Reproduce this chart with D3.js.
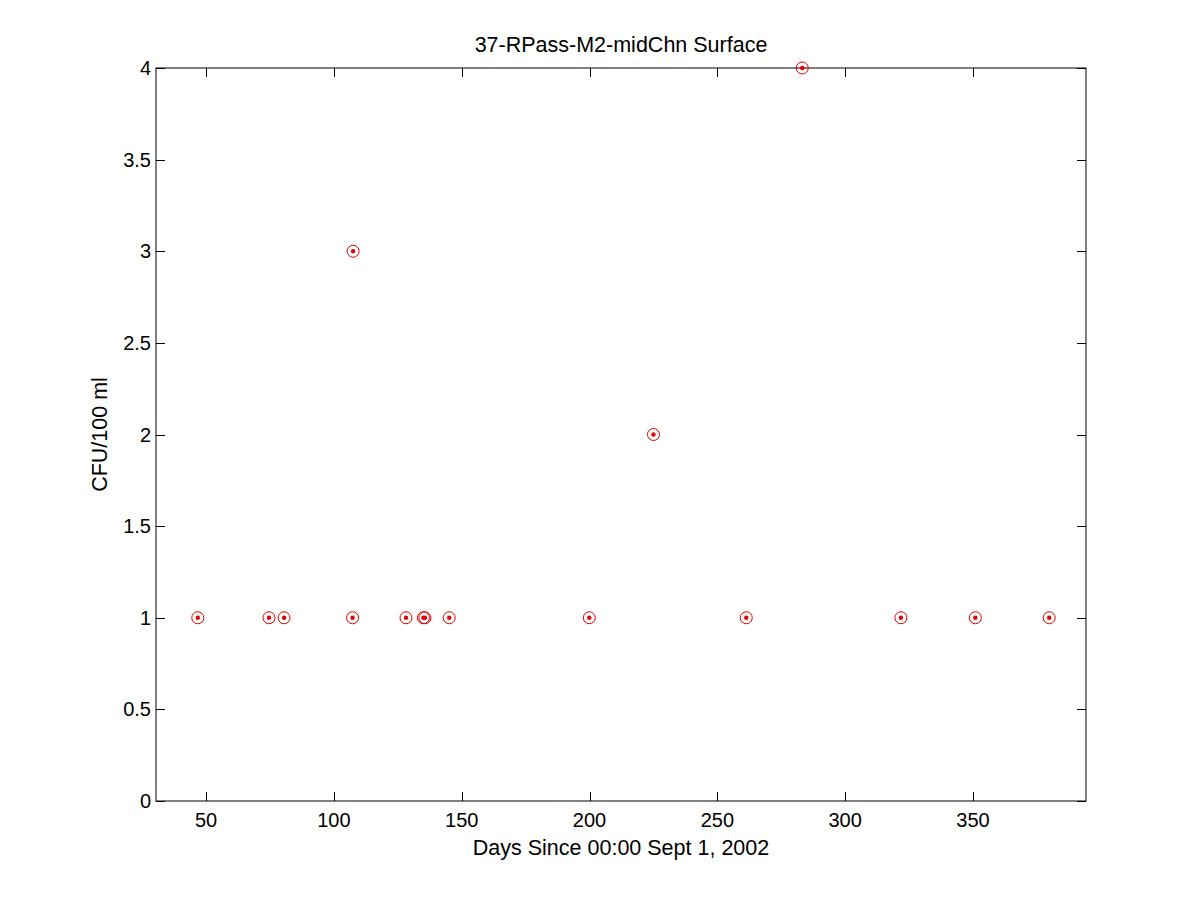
<!DOCTYPE html>
<html>
<head>
<meta charset="utf-8">
<script src="https://cdn.jsdelivr.net/npm/d3@7"></script>
<style>
  body { margin: 0; background: #fff; }
  text { font-family: "Liberation Sans", Arial, sans-serif; fill: #000; }
</style>
</head>
<body>
<div id="chart"></div>
<script>
// sample days and counts
var days = [46.75, 74.6, 80.5, 107.3, 107.5, 128.2, 135.0, 135.6, 145.1, 199.9, 225.0, 261.3, 283.2, 321.8, 350.9, 379.8]
var counts = [1, 1, 1, 1, 3, 1, 1, 1, 1, 1, 2, 1, 4, 1, 1, 1]
var xTicks = [50, 100, 150, 200, 250, 300, 350]
var yTicks = [0, 0.5, 1, 1.5, 2, 2.5, 3, 3.5, 4]

var width = 1200, height = 900
var m = {left: 156, right: 1086, top: 68, bottom: 801}
var fs = '20px', fsLab = '21.5px'

var svg = d3.select('#chart').append('svg')
  .attr('width', width).attr('height', height)

var x = d3.scaleLinear().domain([30.4, 394.2]).range([m.left, m.right])
var y = d3.scaleLinear().domain([0, 4]).range([m.bottom, m.top])

var tl = 9

// box
svg.append('rect')
  .attr('x', m.left).attr('y', m.top)
  .attr('width', m.right - m.left).attr('height', m.bottom - m.top)
  .attr('fill', 'none').attr('stroke', '#000').attr('stroke-width', 1)

// inward ticks on all four sides
var g = svg.append('g').attr('stroke', '#000').attr('stroke-width', 1)
xTicks.forEach(t => {
  var px = Math.round(x(t)) + 0.5
  g.append('line').attr('x1', px).attr('x2', px).attr('y1', m.bottom).attr('y2', m.bottom - tl)
  g.append('line').attr('x1', px).attr('x2', px).attr('y1', m.top).attr('y2', m.top + tl)
})
yTicks.forEach(t => {
  var py = Math.round(y(t)) + 0.5
  g.append('line').attr('x1', m.left).attr('x2', m.left + tl).attr('y1', py).attr('y2', py)
  g.append('line').attr('x1', m.right).attr('x2', m.right - tl).attr('y1', py).attr('y2', py)
})

svg.selectAll('.xl').data(xTicks).enter().append('text')
  .attr('x', d => x(d)).attr('y', m.bottom + 26)
  .attr('text-anchor', 'middle').style('font-size', fs)
  .text(d => d)

svg.selectAll('.yl').data(yTicks).enter().append('text')
  .attr('x', m.left - 5).attr('y', d => y(d) + 7)
  .attr('text-anchor', 'end').style('font-size', fs)
  .text(d => d)

// markers: circle with a dot
var pts = days.map((d, i) => ({d: d, c: counts[i]}))
svg.selectAll('.ring').data(pts).enter().append('circle')
  .attr('cx', p => x(p.d)).attr('cy', p => y(p.c)).attr('r', 6)
  .attr('fill', 'none').attr('stroke', '#e00000').attr('stroke-width', 1)
svg.selectAll('.dot').data(pts).enter().append('circle')
  .attr('cx', p => x(p.d)).attr('cy', p => y(p.c)).attr('r', 2.2)
  .attr('fill', '#e00000')

svg.append('text')
  .attr('x', (m.left + m.right) / 2).attr('y', 52)
  .attr('text-anchor', 'middle').style('font-size', fsLab)
  .text('37-RPass-M2-midChn Surface')

svg.append('text')
  .attr('x', (m.left + m.right) / 2).attr('y', 855)
  .attr('text-anchor', 'middle').style('font-size', fsLab)
  .text('Days Since 00:00 Sept 1, 2002')

svg.append('text')
  .attr('transform', `translate(107,${(m.top + m.bottom) / 2}) rotate(-90)`)
  .attr('text-anchor', 'middle').style('font-size', fsLab)
  .text('CFU/100 ml')
</script>
</body>
</html>
